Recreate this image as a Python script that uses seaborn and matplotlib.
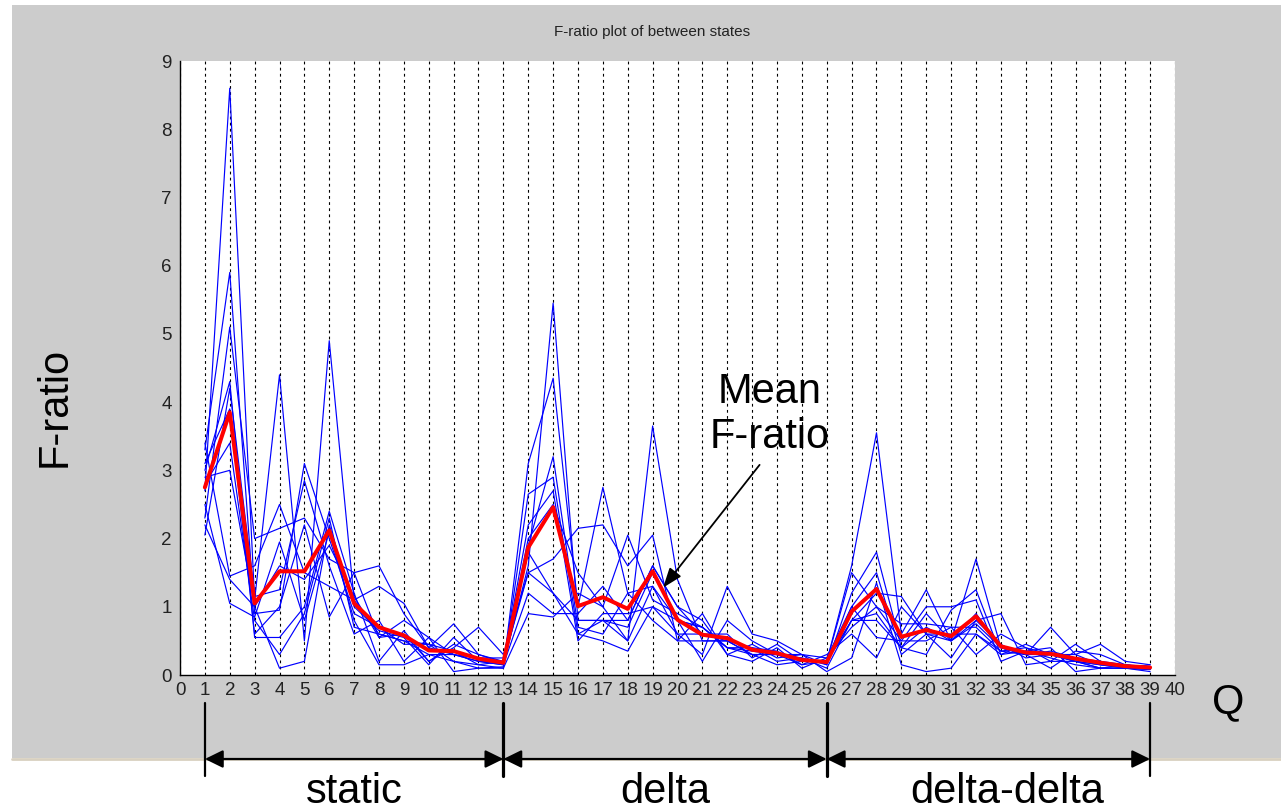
import matplotlib
matplotlib.use("Agg")
import matplotlib.pyplot as plt
import matplotlib.patches as mpatches
import matplotlib.lines as mlines
import matplotlib.transforms as mtransforms
import seaborn as sns
import pandas as pd

# ---------------- data ----------------
q_index = list(range(1, 40))

run_01 = [2.7, 8.6, 1.1, 4.4, 0.5, 4.9, 1.1, 0.6, 0.5, 0.3, 0.3, 0.2, 0.15, 1.6, 5.45, 0.8, 0.8, 0.5, 3.65, 1.4,
          0.5, 0.5, 0.3, 0.3, 0.2, 0.2, 1.6, 3.55, 0.6, 1.25, 0.5, 1.7, 0.4, 0.3, 0.7, 0.3, 0.45, 0.2, 0.15]
run_02 = [3.3, 5.9, 0.9, 0.95, 3.1, 2.0, 0.9, 0.7, 0.45, 0.45, 0.2, 0.15, 0.1, 3.1, 4.35, 1.0, 2.75, 1.2, 1.3, 0.6,
          0.3, 1.3, 0.6, 0.5, 0.3, 0.15, 1.2, 1.8, 0.4, 0.3, 0.95, 1.25, 0.3, 0.45, 0.3, 0.2, 0.15, 0.1, 0.08]
run_03 = [2.3, 5.1, 2.0, 2.15, 2.3, 1.7, 1.5, 1.6, 0.9, 0.4, 0.75, 0.3, 0.2, 2.0, 2.5, 1.5, 1.0, 2.05, 1.1, 0.9,
          0.7, 0.4, 0.4, 0.2, 0.25, 0.1, 0.8, 1.2, 1.15, 0.6, 0.25, 0.8, 0.9, 0.15, 0.2, 0.45, 0.2, 0.15, 0.1]
run_04 = [3.0, 4.3, 0.55, 0.55, 1.0, 2.4, 1.2, 0.2, 0.65, 0.2, 0.4, 0.7, 0.3, 1.5, 1.7, 2.15, 2.2, 1.6, 2.05, 0.5,
          0.9, 0.3, 0.2, 0.4, 0.1, 0.25, 1.0, 0.55, 0.5, 1.0, 1.0, 1.1, 0.2, 0.35, 0.4, 0.05, 0.1, 0.1, 0.05]
run_05 = [2.05, 4.2, 1.15, 1.25, 2.85, 1.6, 0.6, 0.8, 0.2, 0.55, 0.05, 0.1, 0.12, 2.65, 2.9, 0.6, 0.5, 0.35, 1.0, 0.8,
          0.2, 0.8, 0.5, 0.3, 0.3, 0.05, 0.25, 1.35, 0.15, 0.05, 0.1, 0.6, 0.35, 0.3, 0.1, 0.35, 0.3, 0.15, 0.12]
run_06 = [2.9, 3.0, 1.0, 0.1, 0.2, 2.2, 1.0, 0.65, 0.55, 0.15, 0.55, 0.2, 0.15, 1.2, 0.9, 0.9, 1.3, 0.8, 1.6, 1.0,
          0.6, 0.5, 0.3, 0.15, 0.2, 0.2, 1.5, 1.0, 0.75, 0.75, 0.7, 0.3, 0.6, 0.4, 0.3, 0.2, 0.15, 0.12, 0.1]
run_07 = [3.4, 1.45, 1.6, 2.5, 1.5, 1.3, 1.1, 1.3, 1.05, 0.4, 0.3, 0.25, 0.25, 1.9, 3.2, 0.7, 0.6, 1.2, 0.8, 0.5,
          0.5, 0.5, 0.4, 0.35, 0.15, 0.3, 0.6, 0.25, 1.0, 0.6, 0.5, 0.9, 0.4, 0.3, 0.35, 0.25, 0.2, 0.1, 0.15]
run_08 = [2.5, 1.05, 0.85, 1.95, 0.8, 2.1, 0.8, 0.15, 0.15, 0.3, 0.2, 0.1, 0.1, 0.9, 0.85, 1.2, 1.0, 0.5, 1.3, 0.8,
          0.7, 0.4, 0.3, 0.3, 0.25, 0.15, 1.0, 1.5, 0.3, 0.6, 0.6, 0.6, 0.3, 0.35, 0.25, 0.15, 0.1, 0.15, 0.1]
run_09 = [2.8, 3.4, 0.8, 0.3, 0.9, 2.3, 0.7, 0.6, 0.5, 0.45, 0.35, 0.15, 0.2, 2.2, 2.7, 0.5, 0.9, 0.9, 1.0, 0.6,
          0.6, 0.6, 0.25, 0.45, 0.2, 0.2, 0.8, 0.8, 0.4, 0.9, 0.5, 0.8, 0.45, 0.25, 0.3, 0.3, 0.15, 0.12, 0.12]
run_10 = [3.1, 3.9, 0.6, 1.0, 2.2, 0.85, 1.5, 0.55, 0.6, 0.2, 0.45, 0.3, 0.18, 1.8, 1.2, 0.8, 0.8, 0.8, 1.6, 1.0,
          0.8, 0.3, 0.45, 0.25, 0.3, 0.25, 0.7, 1.0, 0.5, 0.5, 0.7, 0.7, 0.35, 0.4, 0.2, 0.2, 0.1, 0.1, 0.1]
run_11 = [2.2, 1.4, 1.0, 1.6, 1.4, 1.9, 1.15, 0.55, 0.8, 0.55, 0.3, 0.2, 0.2, 1.5, 1.2, 0.6, 0.8, 0.7, 1.5, 0.8,
          0.7, 0.4, 0.35, 0.3, 0.15, 0.2, 0.8, 0.9, 0.4, 0.7, 0.5, 0.75, 0.4, 0.3, 0.3, 0.2, 0.1, 0.1, 0.08]

mean_f_ratio = [2.75, 3.85, 1.05, 1.52, 1.52, 2.12, 1.05, 0.70, 0.58, 0.36, 0.35, 0.24, 0.18, 1.87, 2.46, 1.01,
                1.14, 0.97, 1.52, 0.81, 0.59, 0.54, 0.37, 0.32, 0.22, 0.19, 0.93, 1.26, 0.56, 0.66, 0.57, 0.86,
                0.42, 0.33, 0.31, 0.24, 0.18, 0.13, 0.11]

x_ticks = list(range(0, 41))
y_ticks = list(range(0, 10))
segment_labels = ["static", "delta", "delta-delta"]
segment_bounds = [1, 13, 26, 39]
segment_label_x = [7, 19.5, 33.25]

runs = [run_01, run_02, run_03, run_04, run_05, run_06, run_07, run_08, run_09, run_10, run_11]
rows = []
for i, r in enumerate(runs):
    for q, v in zip(q_index, r):
        rows.append({"Q": q, "F": v, "run": f"r{i+1:02d}"})
df = pd.DataFrame(rows)

# ---------------- styling ----------------
sns.set_style("white")
plt.rcParams["font.family"] = ["Liberation Sans", "DejaVu Sans"]
plt.rcParams["text.color"] = "black"

W, H = 1281, 810
fig = plt.figure(figsize=(W / 100, H / 100), dpi=100)
fig.patch.set_facecolor("white")

# gray panel behind the axes
fig.patches.append(mpatches.Rectangle((12 / W, (H - 758) / H), (W - 12) / W, (758 - 5) / H,
                                      transform=fig.transFigure, facecolor="#cccccc",
                                      edgecolor="none", zorder=-10))
fig.lines.append(mlines.Line2D([12 / W, 1.0], [(H - 759) / H] * 2, transform=fig.transFigure,
                               color="#d8d0c0", lw=2, zorder=-9))

ax = fig.add_axes([180 / W, (H - 675) / H, (1175 - 180) / W, (675 - 61) / H])
ax.set_facecolor("white")

sns.lineplot(data=df, x="Q", y="F", hue="run", palette=["#0000ff"] * len(runs),
             estimator=None, legend=False, linewidth=0.85, ax=ax, zorder=3)
sns.lineplot(x=q_index, y=mean_f_ratio, color="#ff0000", linewidth=2.9, ax=ax, zorder=4)

ax.set_xlim(0, 40)
ax.set_ylim(0, 9)
ax.set_xticks(x_ticks)
ax.set_xticklabels([str(t) for t in x_ticks])
ax.set_yticks(y_ticks)
ax.set_xlabel("")
ax.set_ylabel("")
ax.tick_params(axis="both", direction="in", length=7, width=1, color="black",
               labelsize=13.5, labelcolor="#222222", pad=5)
ax.tick_params(axis="y", pad=6)
for s in ["top", "right"]:
    ax.spines[s].set_visible(False)
for s in ["left", "bottom"]:
    ax.spines[s].set_color("black")
    ax.spines[s].set_linewidth(1.0)
ax.grid(axis="x", color="black", linestyle=(0, (2.5, 3)), linewidth=0.8)
ax.grid(axis="y", visible=False)
ax.set_axisbelow(True)

# titles and labels
fig.text(652 / W, 1 - 32 / H, "F-ratio plot of between states", ha="center", va="center",
         fontsize=11, color="#222222")
fig.text(55 / W, 1 - 407 / H, "F-ratio", rotation=90, ha="center", va="center",
         fontsize=30, color="black")
fig.text(1228 / W, 1 - 702 / H, "Q", ha="center", va="center", fontsize=30, color="black")

ax.text(23.72, 3.82, "Mean\nF-ratio", ha="center", va="center", fontsize=30, linespacing=1.15,
        color="black", zorder=6)
ax.annotate("", xy=(19.42, 1.28), xytext=(23.3, 3.08),
            arrowprops=dict(arrowstyle="-|>,head_length=0.6,head_width=0.22", color="black",
                            lw=1.3, mutation_scale=20, shrinkA=0, shrinkB=0), zorder=6)

# segment brackets under the axis
blend = mtransforms.blended_transform_factory(ax.transData, fig.transFigure)
y_top = (H - 703) / H
y_bot = (H - 776) / H
y_arr = (H - 759) / H
for i, b in enumerate(segment_bounds):
    lw = 1.6 if i in (0, 3) else 2.3
    ax.plot([b, b], [y_top, y_bot], color="black", lw=lw, transform=blend, clip_on=False)
for i in range(3):
    ax.annotate("", xy=(segment_bounds[i + 1], y_arr), xytext=(segment_bounds[i], y_arr),
                xycoords=blend, textcoords=blend,
                arrowprops=dict(arrowstyle="<|-|>,head_length=0.55,head_width=0.27",
                                color="black", lw=1.6, mutation_scale=20,
                                shrinkA=0, shrinkB=0))
    ax.text(segment_label_x[i], (H - 803) / H, segment_labels[i], transform=blend,
            ha="center", va="baseline", fontsize=30, color="black", clip_on=False)

fig.savefig("out.png", dpi=100)
